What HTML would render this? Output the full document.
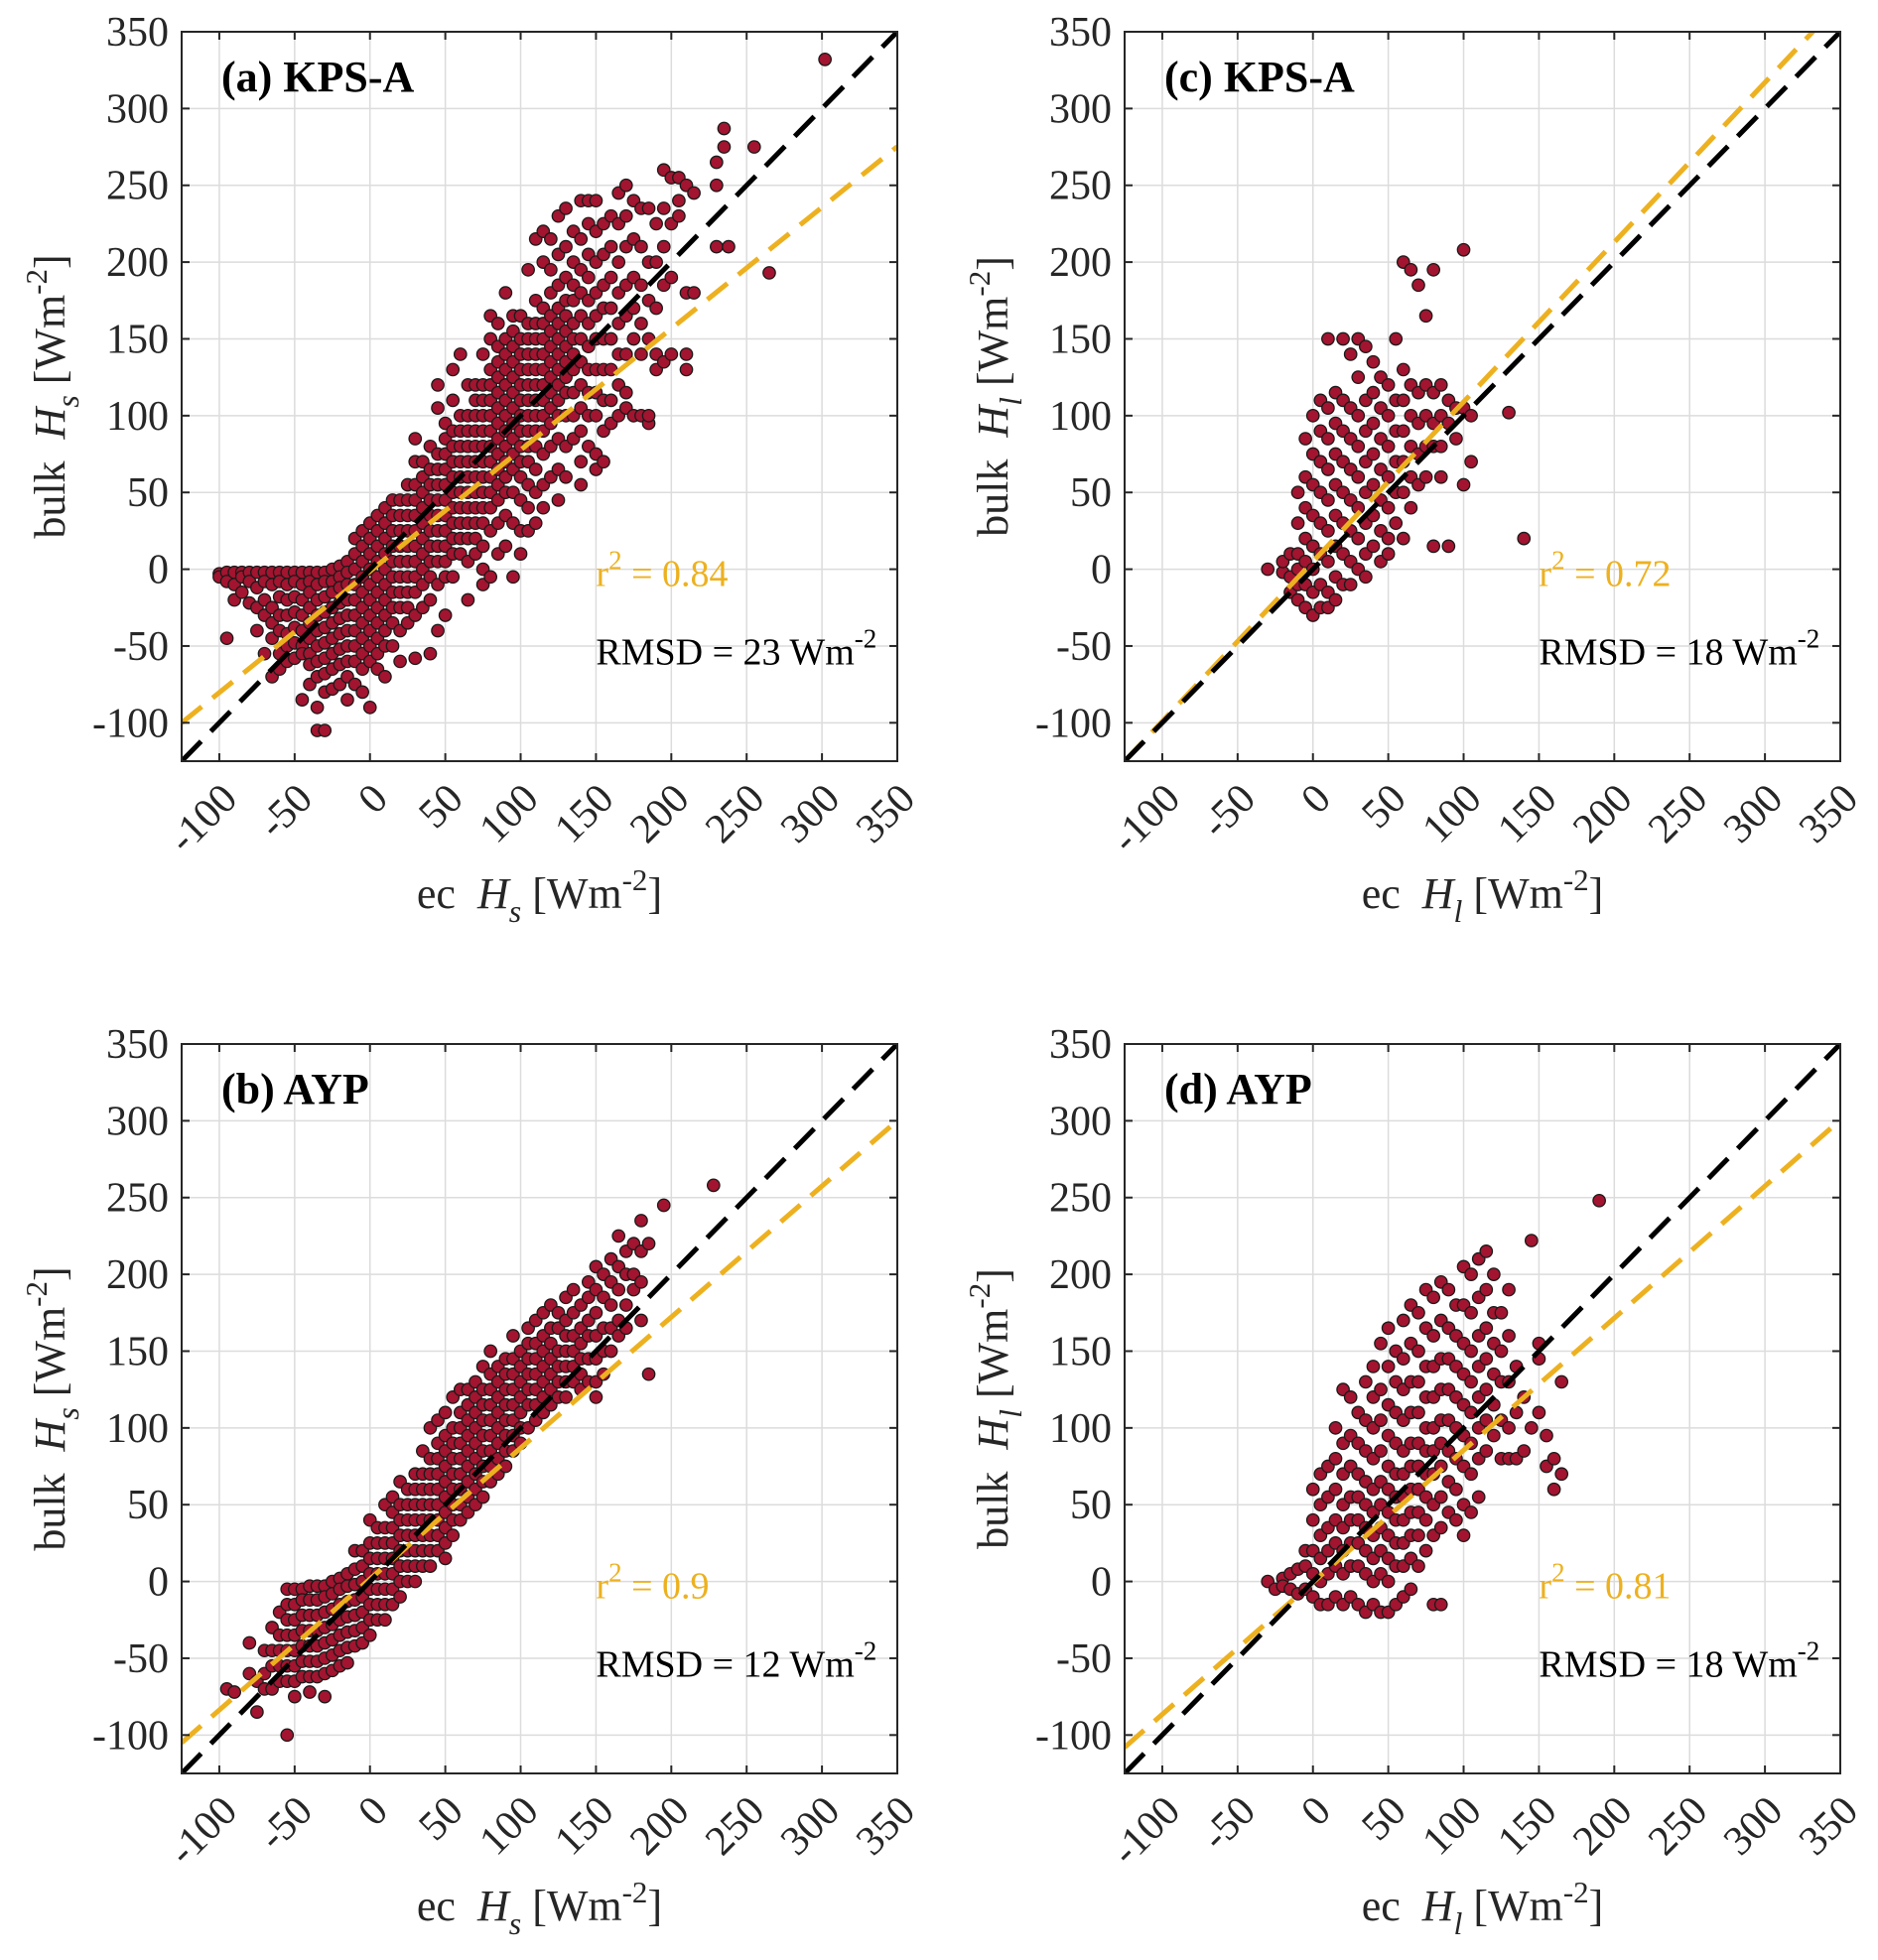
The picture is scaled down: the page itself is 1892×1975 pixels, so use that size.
<!DOCTYPE html>
<html><head><meta charset="utf-8">
<style>
html,body{margin:0;padding:0;background:#fff;}
svg{display:block;font-family:"Liberation Serif","Times New Roman",serif;}
text{white-space:pre;}
</style></head>
<body>
<svg id="fig" width="1892" height="1975" viewBox="0 0 1892 1975" xmlns="http://www.w3.org/2000/svg"></svg>
<script>
// ---- data (points grouped as [x, [y values]]) ----
const ptsA = [[-100,[-3,-5]],[-95,[-2,-8,-45]],[-90,[-2,-10,-20]],[-85,[-2,-5,-15]],[-80,[-2,-8,-22]],[-75,[-2,-12,-25,-40]],[-70,[-2,-8,-20,-30,-55]],[-65,[-2,-10,-25,-35,-45,-70]],[-60,[-2,-8,-18,-30,-40,-55,-65]],[-55,[-2,-10,-20,-30,-42,-50,-60]],[-50,[-2,-8,-18,-28,-38,-48,-58]],[-45,[-2,-10,-20,-30,-40,-50,-55,-85]],[-40,[-2,-8,-15,-25,-35,-45,-55,-62,-75]],[-35,[-2,-10,-20,-30,-40,-50,-60,-70,-90,-105]],[-30,[-2,-8,-18,-28,-38,-48,-58,-68,-80,-105]],[-25,[0,-8,-15,-25,-35,-45,-55,-65,-78]],[-20,[2,-5,-12,-22,-32,-42,-52,-62,-75]],[-15,[5,-2,-10,-20,-30,-40,-50,-60,-70,-85]],[-10,[20,10,0,-10,-20,-30,-40,-50,-60,-75]],[-5,[25,15,5,-5,-15,-25,-35,-45,-55,-65,-80]],[0,[30,20,10,0,-10,-20,-30,-40,-50,-60,-90]],[5,[35,25,15,5,-5,-15,-25,-35,-45,-55,-65]],[10,[40,30,20,10,0,-10,-20,-30,-40,-50,-70]],[15,[45,35,25,15,5,-5,-15,-25,-35,-50]],[20,[45,35,25,15,5,-5,-15,-25,-40,-60]],[25,[55,45,35,25,15,5,-5,-15,-25,-35]],[30,[85,70,55,45,35,25,15,5,-5,-15,-30,-58]],[35,[70,60,50,40,30,20,10,0,-10,-25]],[40,[80,65,55,45,35,25,15,5,-5,-20,-55]],[45,[120,105,75,65,55,45,35,25,15,5,-10,-40]],[50,[95,85,75,65,55,45,35,25,15,5,-5,-30]],[55,[130,110,90,80,70,60,50,40,30,20,10,-5]],[60,[140,100,90,80,70,60,50,40,30,20,10]],[65,[120,100,90,80,70,60,50,40,30,20,5,-20]],[70,[120,110,100,90,80,70,60,50,40,30,20,10]],[75,[140,120,110,100,90,80,70,60,50,40,30,15,0,-10]],[80,[165,150,130,120,110,100,90,80,70,60,50,40,25,-5]],[85,[160,145,135,125,115,105,95,85,75,65,55,45,30,10]],[90,[180,150,140,130,120,110,100,90,80,70,60,50,35,15]],[95,[165,155,145,135,125,115,105,95,85,75,65,50,30,-5]],[100,[165,150,140,130,120,110,100,90,80,70,60,45,25,10]],[105,[195,160,150,140,130,120,110,100,90,80,70,55,40,25]],[110,[215,175,160,150,140,130,120,110,100,90,80,65,50,30]],[115,[220,200,170,160,150,140,130,120,110,100,90,75,55,40]],[120,[215,195,180,165,155,145,135,125,115,105,95,80,60]],[125,[230,205,185,170,160,150,140,130,120,110,100,85,65,45]],[130,[235,210,190,175,165,155,145,135,125,115,100,80,60]],[135,[220,200,185,175,160,150,140,130,115,100,85]],[140,[240,215,195,180,165,150,135,120,105,90,70,55]],[145,[240,225,205,190,175,160,145,130,115,100,80]],[150,[240,220,200,180,165,150,130,115,100,75,65]],[155,[225,205,185,170,150,130,110,90,70]],[160,[230,210,190,170,150,130,110,95]],[165,[245,225,200,180,160,140,120,100]],[170,[250,230,210,185,165,140,115,105]],[175,[240,215,190,170,150,100]],[180,[235,210,185,160,140,100]],[185,[235,200,175,150,95,100]],[190,[225,200,170,140,130]],[195,[260,235,210,185,135]],[200,[255,225,190,140]],[205,[255,240,230]],[210,[250,180,140,130]],[215,[245,180]],[230,[265,250,210]],[235,[287,275]],[238,[210]],[255,[275]],[265,[193]],[302,[332]]];
const ptsB = [[-95,[-70]],[-90,[-72]],[-80,[-40,-60]],[-75,[-65,-85]],[-70,[-45,-60,-70]],[-65,[-30,-45,-55,-70]],[-60,[-20,-35,-45,-55,-65]],[-55,[-5,-15,-25,-35,-45,-55,-65,-100]],[-50,[-5,-15,-25,-35,-45,-55,-65,-75]],[-45,[-5,-12,-22,-32,-42,-52,-62]],[-40,[-3,-12,-22,-32,-42,-52,-62,-72]],[-35,[-3,-12,-22,-32,-42,-52,-62]],[-30,[-3,-10,-20,-30,-40,-50,-60,-75]],[-25,[0,-8,-18,-28,-38,-48,-58]],[-20,[2,-5,-15,-25,-35,-45,-55]],[-15,[5,-3,-13,-23,-33,-43,-53]],[-10,[20,8,-2,-12,-22,-32,-42]],[-5,[20,10,0,-10,-20,-30,-40]],[0,[40,25,15,5,-5,-15,-25,-35]],[5,[35,25,15,5,-5,-15,-25]],[10,[50,35,25,15,5,-5,-15,-25]],[15,[55,45,35,25,15,5,-5,-15]],[20,[65,50,40,30,20,10,0,-10]],[25,[60,50,40,30,20,10,0]],[30,[70,60,50,40,30,20,10,0]],[35,[85,70,60,50,40,30,20,10]],[40,[100,80,70,60,50,40,30,20,10]],[45,[105,90,80,70,60,50,40,30,20]],[50,[110,95,85,75,65,55,45,35,25,15]],[55,[120,100,90,80,70,60,50,40,30]],[60,[125,110,100,90,80,70,60,50,40]],[65,[125,115,105,95,85,75,65,55,45]],[70,[130,120,110,100,90,80,70,60,50]],[75,[140,125,115,105,95,85,75,65,55]],[80,[150,135,125,115,105,95,85,75,65]],[85,[140,130,120,110,100,90,80,70]],[90,[145,135,125,115,105,95,85,75]],[95,[160,145,135,125,115,105,95,85]],[100,[150,140,130,120,110,100,90]],[105,[165,155,145,135,125,115,100]],[110,[170,155,145,135,125,115,105]],[115,[175,160,150,140,130,120,110]],[120,[180,165,155,145,135,125,115]],[125,[175,165,150,140,130,120]],[130,[185,170,160,150,140,130,120]],[135,[190,175,160,150,140,130]],[140,[180,165,155,145,135,125]],[145,[195,185,170,160,145,130]],[150,[205,190,175,160,145,130,120]],[155,[200,185,165,150,135]],[160,[210,195,180,165,150]],[165,[225,205,190,170,160]],[170,[215,200,180,165]],[175,[220,200,190]],[180,[235,215,195,170]],[185,[220,135]],[195,[245]],[228,[258]]];
const ptsC = [[-30,[0]],[-20,[-2,5]],[-15,[10,-5,-15]],[-10,[50,30,10,0,-10,-20]],[-5,[85,60,40,20,5,-10,-25]],[0,[100,75,55,35,15,0,-15,-30]],[5,[110,90,70,50,30,10,-10,-25]],[10,[150,105,85,65,45,25,5,-15,-25]],[15,[115,95,75,55,35,15,-5,-20]],[20,[150,110,90,70,50,30,10,-10]],[25,[140,105,85,65,45,25,5,-10]],[30,[150,125,100,80,60,40,20,0]],[35,[145,110,90,70,50,30,10,-5]],[40,[135,115,95,75,55,35,15]],[45,[125,105,85,65,45,25,5]],[50,[120,100,80,60,40,20,10]],[55,[150,110,90,70,50,30]],[60,[200,130,110,90,70,50,20]],[65,[195,120,100,80,60,40]],[70,[185,115,95,75,55]],[75,[165,120,100,80,60]],[80,[195,115,95,80,15]],[85,[120,100,80,60]],[90,[110,95,15]],[95,[105,85]],[100,[208,105,55]],[105,[100,70]],[130,[102]],[140,[20]]];
const ptsD = [[-30,[0]],[-25,[-5]],[-20,[2,-3]],[-15,[5,-5]],[-10,[8,-8]],[-5,[20,10,-5]],[0,[60,40,20,5,-10]],[5,[70,50,30,15,0,-15]],[10,[75,55,35,20,5,-15]],[15,[100,80,60,40,25,10,-10]],[20,[125,90,70,50,35,20,5,-15]],[25,[120,95,75,55,40,25,10,-10]],[30,[110,90,70,55,40,25,10,-15]],[35,[130,105,85,65,50,35,20,5,-20]],[40,[140,120,100,80,60,45,30,15,0,-15]],[45,[155,125,105,85,65,50,35,20,5,-20]],[50,[165,140,115,95,75,60,45,30,15,0,-20]],[55,[150,130,110,90,70,55,40,25,10,-15]],[60,[170,145,125,105,85,70,55,40,25,10,-10]],[65,[180,155,130,110,90,75,60,45,30,15,-5]],[70,[175,150,130,110,90,75,60,45,30,10]],[75,[190,165,140,120,100,85,70,55,40,20]],[80,[185,160,140,120,100,85,70,50,30,-15]],[85,[195,170,145,125,105,90,75,55,35,-15]],[90,[190,165,145,125,105,85,65,45]],[95,[180,160,140,120,100,80,60,40]],[100,[205,180,155,135,115,95,75,50,30]],[105,[200,175,150,130,110,90,70,45]],[110,[210,185,160,140,120,100,80,55]],[115,[215,190,165,145,125,105,85]],[120,[200,175,155,135,115,95]],[125,[175,150,130,105,80]],[130,[190,160,130,100,80]],[135,[140,110,80]],[140,[120,85]],[145,[222,100]],[150,[155,145,110]],[155,[95,75]],[160,[80,60]],[165,[130,70]],[190,[248]]];
const tickVals = [-100,-50,0,50,100,150,200,250,300,350];
const fitSlopes = [0.79,0.853,1.04,0.86];
const fitIntercepts = [-1.3,1.6,5,-0.5];
const r2Labels = ["0.84","0.9","0.72","0.81"];
const rmsdLabels = ["23","12","18","18"];
const panelTitles = ["(a) KPS-A","(b) AYP","(c) KPS-A","(d) AYP"];
const varSub = ["s","s","l","l"];

const NS="http://www.w3.org/2000/svg";
const svg=document.getElementById('fig');
function mk(tag,attrs,parent){const e=document.createElementNS(NS,tag);for(const k in attrs)e.setAttribute(k,attrs[k]);(parent||svg).appendChild(e);return e;}

const panels=[
 {L:183,T:32,pts:ptsA,i:0},
 {L:183,T:1052,pts:ptsB,i:1},
 {L:1133,T:32,pts:ptsC,i:2},
 {L:1133,T:1052,pts:ptsD,i:3}
];
const W=721,H=735,MIN=-125,MAX=350;

panels.forEach(p=>{
 const i=p.i;
 const sx=v=>p.L+(v-MIN)/(MAX-MIN)*W;
 const sy=v=>p.T+H-(v-MIN)/(MAX-MIN)*H;
 const g=mk('g',{});
 
 
 const clipId='clip'+i;
 const cp=mk('clipPath',{id:clipId},g);mk('rect',{x:p.L,y:p.T,width:W,height:H},cp);
 const grid=mk('g',{stroke:'#dcdcdc','stroke-width':1.5},g);
 
 
 tickVals.forEach(v=>{
  if(v<MAX){mk('line',{x1:sx(v),x2:sx(v),y1:p.T,y2:p.T+H},grid);
  mk('line',{x1:p.L,x2:p.L+W,y1:sy(v),y2:sy(v)},grid);}
 });
 const pg=mk('g',{fill:'#A2142F',stroke:'#1a1a1a','stroke-width':1.3,'clip-path':'url(#'+clipId+')'},g);
 
 
 p.pts.forEach(col=>{col[1].forEach(y=>{
  const c=mk('circle',{cx:sx(col[0]),cy:sy(y),r:6.2},pg);
  
  
 });});
 const a=fitSlopes[i],b=fitIntercepts[i];
 const fl=mk('line',{x1:sx(MIN),y1:sy(a*MIN+b),x2:sx(MAX),y2:sy(a*MAX+b),stroke:'#EDB120','stroke-width':5,'stroke-dasharray':'26 14','clip-path':'url(#'+clipId+')'},g);
 
 
 const ol=mk('line',{x1:sx(MIN),y1:sy(MIN),x2:sx(MAX),y2:sy(MAX),stroke:'#000','stroke-width':5,'stroke-dasharray':'28 14','clip-path':'url(#'+clipId+')'},g);
 
 
 const box=mk('rect',{x:p.L,y:p.T,width:W,height:H,fill:'none',stroke:'#262626','stroke-width':2},g);
 
 
 const tg=mk('g',{stroke:'#262626','stroke-width':2},g);
 tickVals.forEach(v=>{
  mk('line',{x1:sx(v),x2:sx(v),y1:p.T+H,y2:p.T+H-8},tg);
  mk('line',{x1:sx(v),x2:sx(v),y1:p.T,y2:p.T+8},tg);
  mk('line',{x1:p.L,x2:p.L+8,y1:sy(v),y2:sy(v)},tg);
  mk('line',{x1:p.L+W,x2:p.L+W-8,y1:sy(v),y2:sy(v)},tg);
 });
 tickVals.forEach(v=>{
  const t=mk('text',{x:p.L-13,y:sy(v)+14,'text-anchor':'end','font-size':42,fill:'#262626'},g);
  t.textContent=String(v);
  
  
  const tx=sx(v)+20,ty=p.T+H+40;
  const u=mk('text',{x:tx,y:ty,'text-anchor':'end','font-size':42,fill:'#262626',transform:'rotate(-45 '+tx+' '+ty+')'},g);
  u.textContent=String(v);
  
  
 });
 const ti=mk('text',{x:p.L+40,y:p.T+60,'font-size':44,'font-weight':'bold',fill:'#000'},g);
 ti.textContent=panelTitles[i];
 
 
 const r2=mk('text',{x:sx(150),y:sy(-11),'font-size':38,fill:'#EDB120'},g);
 r2.innerHTML='r<tspan dy="-17" font-size="27">2</tspan><tspan dy="17"> = '+r2Labels[i]+'</tspan>';
 
 
 const rm=mk('text',{x:sx(150),y:sy(-62),'font-size':38,fill:'#000'},g);
 rm.innerHTML='RMSD = '+rmsdLabels[i]+' Wm<tspan dy="-17" font-size="27">-2</tspan>';
 
 
 const cx=p.L+W/2,cy=p.T+H/2;
 const xt=mk('text',{x:cx,y:p.T+H+148,'text-anchor':'middle','font-size':44,fill:'#262626'},g);
 xt.innerHTML='ec  <tspan font-style="italic">H</tspan><tspan font-style="italic" font-size="32" dy="14">'+varSub[i]+'</tspan><tspan dy="-14"> [Wm</tspan><tspan font-size="31" dy="-18">-2</tspan><tspan dy="18">]</tspan>';
 
 
 const yx=p.L-118;
 const yt=mk('text',{x:yx,y:cy,'text-anchor':'middle','font-size':44,fill:'#262626',transform:'rotate(-90 '+yx+' '+cy+')'},g);
 yt.innerHTML='bulk  <tspan font-style="italic">H</tspan><tspan font-style="italic" font-size="32" dy="14">'+varSub[i]+'</tspan><tspan dy="-14"> [Wm</tspan><tspan font-size="31" dy="-18">-2</tspan><tspan dy="18">]</tspan>';
 
 
});
</script>
</body></html>
